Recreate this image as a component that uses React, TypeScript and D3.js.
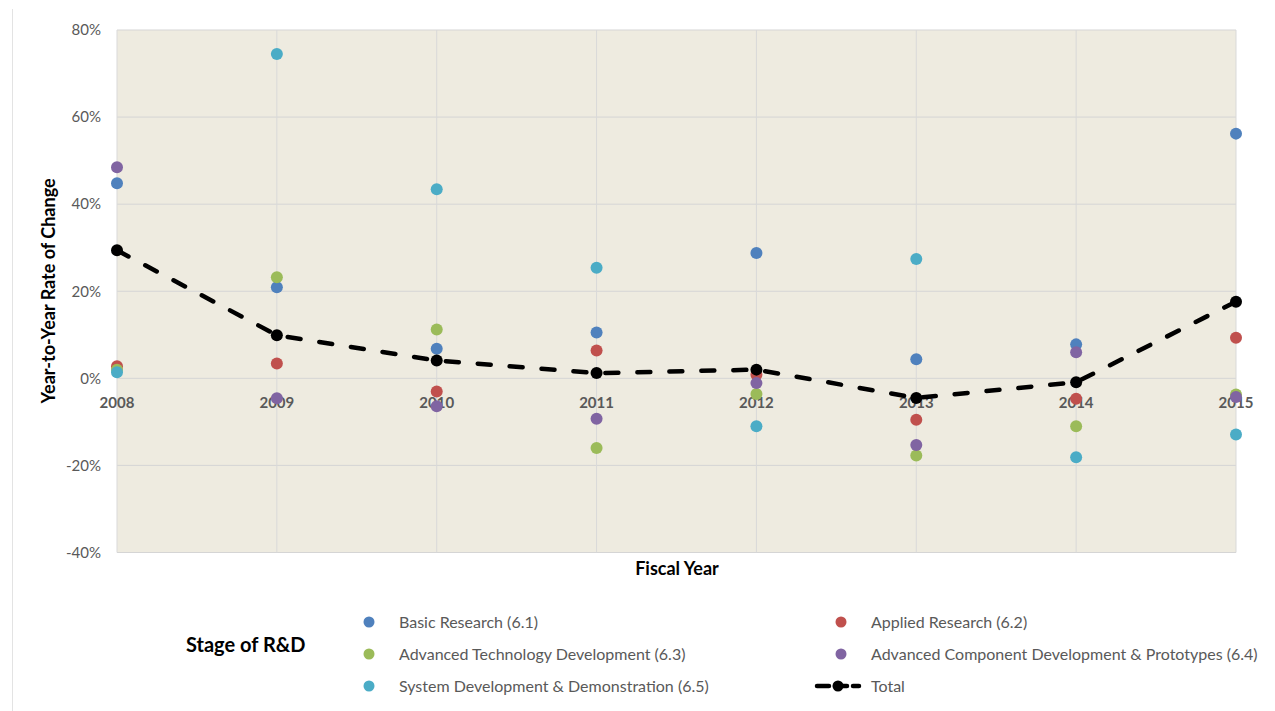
import React from "react";
import * as d3 from "d3";

const years = [2008, 2009, 2010, 2011, 2012, 2013, 2014, 2015];
const basicResearch = [44.8, 20.9, 6.8, 10.5, 28.8, 4.4, 7.8, 56.2];
const appliedResearch = [2.8, 3.4, -3.0, 6.4, 0.8, -9.5, -4.7, 9.3];
const advTechDev = [2.0, 23.2, 11.2, -16.0, -3.6, -17.7, -11.0, -3.7];
const advComponentDev = [48.5, -4.6, -6.4, -9.3, -1.1, -15.3, 6.0, -4.3];
const systemDev = [1.4, 74.5, 43.4, 25.4, -11.0, 27.4, -18.1, -12.9];
const total = [29.4, 9.9, 4.1, 1.2, 2.0, -4.5, -0.9, 17.6];
const yTicks = [-40, -20, 0, 20, 40, 60, 80];

const series = [
  { name: "Basic Research (6.1)", values: basicResearch, color: "#4F81BD" },
  { name: "Applied Research (6.2)", values: appliedResearch, color: "#C0504D" },
  { name: "Advanced Technology Development (6.3)", values: advTechDev, color: "#9BBB59" },
  { name: "Advanced Component Development & Prototypes (6.4)", values: advComponentDev, color: "#8064A2" },
  { name: "System Development & Demonstration (6.5)", values: systemDev, color: "#4BACC6" },
];

const FONT = "Lato, 'Open Sans', sans-serif";

export default function App() {
  const W = 1275, H = 711;
  const left = 117, right = 1236, top = 30, bottom = 552.5;
  const x = d3.scaleLinear().domain([2008, 2015]).range([left, right]);
  const y = d3.scaleLinear().domain([-40, 80]).range([bottom, top]);
  const line = d3.line<number>().x((_, i) => x(years[i])).y((d) => y(d));

  const legendItems = [
    { ...series[0], lx: 369, ly: 622 },
    { ...series[1], lx: 841, ly: 622 },
    { ...series[2], lx: 369, ly: 654 },
    { ...series[3], lx: 841, ly: 654 },
    { ...series[4], lx: 369, ly: 686 },
  ];

  return (
    <svg width={W} height={H} style={{ position: "absolute", left: 0, top: 0 }}>
      <rect x={0} y={0} width={W} height={H} fill="#fff" />
      <line x1={12.5} x2={12.5} y1={9} y2={H} stroke="#E3E3E3" />
      <rect x={left} y={top} width={right - left} height={bottom - top} fill="#EEEBE0" />
      {yTicks.map((t) => (
        <line key={"gy" + t} x1={left} x2={right} y1={y(t)} y2={y(t)} stroke="#D5D5D5" strokeWidth={1} />
      ))}
      {years.map((yr) => (
        <line key={"gx" + yr} x1={x(yr)} x2={x(yr)} y1={top} y2={bottom} stroke="#D9D9D9" strokeWidth={1} />
      ))}
      {yTicks.map((t) => (
        <text key={"ty" + t} x={101} y={y(t)} dy="0.35em" textAnchor="end" fontFamily={FONT} fontSize={15} fill="#595959">
          {t + "%"}
        </text>
      ))}
      {years.map((yr) => (
        <text key={"tx" + yr} x={x(yr)} y={403} dy="0.35em" textAnchor="middle" fontFamily={FONT} fontSize={15} fontWeight="bold" fill="#595959">
          {yr}
        </text>
      ))}
      {series.map((s) =>
        s.values.map((v, i) => (
          <circle key={s.name + i} cx={x(years[i])} cy={y(v)} r={6} fill={s.color} />
        ))
      )}
      <path d={line(total) || ""} fill="none" stroke="#000" strokeWidth={4.5} strokeDasharray="13,19" strokeLinecap="round" />
      {total.map((v, i) => (
        <circle key={"t" + i} cx={x(years[i])} cy={y(v)} r={6} fill="#000" />
      ))}
      <text transform={`translate(55,291) rotate(-90)`} textAnchor="middle" fontFamily={FONT} fontSize={18} fontWeight="bold" fill="#000">
        Year-to-Year Rate of Change
      </text>
      <text x={677} y={575} textAnchor="middle" fontFamily={FONT} fontSize={18} fontWeight="bold" fill="#000">
        Fiscal Year
      </text>
      <text x={186} y={652} fontFamily={FONT} fontSize={20} fontWeight="bold" fill="#000">
        Stage of R&amp;D
      </text>
      {legendItems.map((it) => (
        <g key={"lg" + it.name}>
          <circle cx={it.lx} cy={it.ly} r={5.5} fill={it.color} />
          <text x={it.lx + 30} y={it.ly} dy="0.35em" fontFamily={FONT} fontSize={16} fill="#595959">
            {it.name}
          </text>
        </g>
      ))}
      <line x1={817} x2={859} y1={686} y2={686} stroke="#000" strokeWidth={4.5} strokeDasharray="12,6" strokeLinecap="round" />
      <circle cx={838} cy={686} r={5.5} fill="#000" />
      <text x={871} y={686} dy="0.35em" fontFamily={FONT} fontSize={16} fill="#595959">
        Total
      </text>
    </svg>
  );
}
